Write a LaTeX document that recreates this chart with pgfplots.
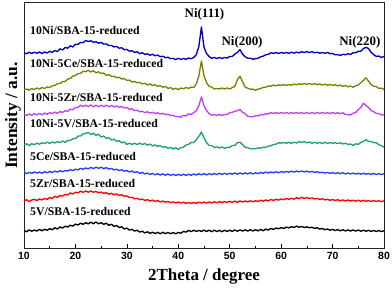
\documentclass[border=0pt]{standalone}
\usepackage{fontspec}
\setmainfont{Liberation Serif}
\setsansfont{Liberation Sans}
\usepackage{pgfplots}
\usepackage{pgfplotstable}
\pgfplotsset{compat=1.18}
\definecolor{cnb}{RGB}{0,0,190}
\definecolor{col}{RGB}{128,128,0}
\definecolor{cpu}{RGB}{192,64,255}
\definecolor{cgr}{RGB}{30,160,120}
\definecolor{cbl}{RGB}{40,60,255}
\definecolor{crd}{RGB}{255,0,0}
\pgfplotstableread{
x bk rd bl gr pu ol nb
10.0 17.5 47 75.8 103 133.8 158 195.5
10.5 16.2 48.2 74.3 104.2 132.4 159.1 194.2
11.0 18.1 46.5 75.6 102.5 134.1 157.8 195.8
11.5 16.8 47.9 74.7 104.3 132.8 159.6 194.4
12.0 17.9 48.8 76.1 103.2 134.3 158.4 195.9
12.5 16.9 47.4 74.9 104.9 133.1 160.0 194.6
13.0 18.6 49.0 76.0 103.8 134.6 158.9 196.0
13.5 17.2 48.1 74.8 105.2 133.2 160.4 194.5
14.0 18.8 49.6 76.3 104.4 134.9 159.5 196.1
14.5 17.7 48.5 75.2 105.8 133.8 161.1 194.9
15.0 19.4 50.6 76.5 104.6 135.4 160.4 196.8
15.5 18.3 49.4 75.5 106.0 134.3 162.2 195.6
16.0 20.2 51.7 76.9 105.1 135.9 162.6 197.6
16.5 19.0 50.6 75.9 106.4 134.8 164.3 196.4
17.0 21.1 52.5 77.3 105.4 136.4 164.5 199.2
17.5 20.0 51.9 76.3 107.0 135.6 166.4 198.0
18.0 21.8 53.7 77.5 105.6 137.2 166.6 200.6
18.5 21.0 53.0 77.0 107.6 136.7 168.9 199.8
19.0 22.8 55.1 78.4 107.5 138.8 169.5 202.2
19.5 21.9 54.0 77.4 109.4 138.2 171.9 201.0
20.0 23.9 55.7 78.8 109.4 140.6 172.4 203.8
20.5 23.0 55.2 78.2 111.9 140.4 174.5 203.6
21.0 24.8 56.8 79.6 112.0 142.8 174.6 205.6
21.5 23.7 55.6 78.8 114.2 141.4 176.7 205.3
22.0 25.4 57.1 80.0 114.6 142.9 176.4 207.6
22.5 24.1 55.8 79.2 115.6 141.5 177.7 206.4
23.0 25.9 57.0 80.6 113.5 143.1 176.0 207.3
23.5 24.3 55.7 79.4 114.8 141.2 177.3 205.8
24.0 26.0 56.6 80.9 112.6 142.8 175.1 206.3
24.5 24.2 55.2 79.6 113.8 141.3 176.2 204.8
25.0 25.4 56.0 80.8 111.0 142.9 174.6 205.6
25.5 23.7 54.6 79.3 112.0 141.4 174.9 203.9
26.0 24.8 55.3 80.4 109.6 142.8 172.6 204.1
26.5 22.6 53.8 78.9 110.2 141.2 173.3 202.4
27.0 23.8 54.7 79.6 108.0 142.6 171.6 202.6
27.5 21.6 53.3 78.1 108.9 141.1 171.8 201.0
28.0 22.5 54.0 78.8 106.6 142.1 170.2 201.6
28.5 20.4 52.6 77.4 107.4 140.6 170.7 199.8
29.0 21.2 53.2 78.2 105.1 141.6 169.0 200.2
29.5 19.0 51.8 76.8 106.0 139.9 169.4 198.3
30.0 19.9 52.1 77.5 103.6 140.6 167.6 198.6
30.5 17.9 50.4 76.0 104.8 138.8 167.9 196.8
31.0 18.7 50.8 77.0 103.5 139.2 166.0 197.3
31.5 16.9 49.2 75.5 104.8 137.4 166.5 195.5
32.0 17.8 49.6 76.2 103.4 137.8 165.2 196.2
32.5 15.9 48.3 74.6 104.9 136.3 165.6 194.3
33.0 16.8 48.9 75.6 103.5 136.7 164.1 195.3
33.5 15.1 47.6 74.0 104.5 135.4 164.7 193.6
34.0 16.2 48.3 74.9 102.8 136.2 163.1 194.2
34.5 14.6 47.0 73.5 103.9 134.9 164.0 192.8
35.0 15.9 47.9 74.6 102.0 135.7 162.5 193.7
35.5 14.4 46.6 73.2 103.1 134.5 163.3 192.2
36.0 15.7 47.4 74.3 101.6 135.2 161.6 192.9
36.5 14.2 46.1 72.9 102.4 133.9 162.4 191.3
37.0 15.8 47.0 74.2 100.7 134.7 160.7 191.8
37.5 14.3 45.8 72.8 101.5 133.3 161.6 190.3
38.0 15.6 46.6 74.0 99.6 133.8 159.6 190.7
38.5 14.2 45.4 72.6 100.6 132.3 160.5 189.4
39.0 15.5 46.1 73.8 99.0 132.7 158.6 189.6
39.5 14.1 45.1 72.4 100.2 131.3 159.7 188.4
40.0 15.6 46.0 73.8 98.6 131.6 158.5 189.7
40.5 14.8 44.9 72.5 100.4 130.8 159.9 188.5
41.0 16.6 45.8 73.7 100.8 132.6 159.2 189.6
41.5 15.9 44.6 72.6 103.0 132.0 160.5 188.6
42.0 17.6 45.6 73.8 103.6 134.1 159.6 190.0
42.5 16.4 44.5 72.7 105.6 133.6 160.9 189.2
43.0 17.8 45.6 74.0 105.4 135.4 160.5 190.5
43.5 16.5 44.7 73.0 108.4 137.3 164.2 193.3
44.0 17.6 45.8 74.2 111.6 142.4 172.0 201.5
44.5 16.6 44.9 73.2 116.0 151.0 187.0 221.0
45.0 17.9 45.9 74.3 110.2 142.2 172.4 200.6
45.5 16.4 45.0 73.1 105.3 137.4 165.3 194.4
46.0 17.8 46.1 74.4 102.6 134.5 161.6 191.5
46.5 16.3 44.9 73.3 102.4 132.6 160.9 189.6
47.0 17.9 46.2 74.6 100.6 133.6 159.1 190.6
47.5 16.4 45.2 73.4 101.1 132.4 159.5 189.4
48.0 17.7 46.4 74.8 100.1 133.7 159.0 190.5
48.5 16.3 45.3 73.6 101.0 132.5 160.0 189.5
49.0 17.8 46.5 74.7 99.7 133.5 159.1 190.5
49.5 16.5 45.5 73.5 100.6 133.4 160.1 190.0
50.0 17.9 46.7 74.9 100.6 135.4 159.1 191.4
50.5 16.6 45.6 73.7 102.4 135.6 160.4 191.6
51.0 18.0 46.9 75.1 102.7 136.9 161.6 193.9
51.5 16.8 45.8 73.8 105.4 137.2 168.3 195.6
52.0 18.1 47.0 75.1 105.8 138.4 171.8 198.4
52.5 16.9 46.0 73.9 103.4 135.6 166.3 193.7
53.0 18.2 47.1 75.2 100.7 134.4 160.8 191.3
53.5 16.9 46.1 74.0 100.3 131.7 159.8 189.8
54.0 18.3 47.2 75.3 99.2 131.3 158.7 189.8
54.5 17.0 46.2 74.1 99.4 131.2 158.9 188.8
55.0 18.4 47.3 75.2 99.2 132.3 157.7 189.3
55.5 17.1 46.5 74.4 100.1 132.1 158.9 189.7
56.0 18.6 47.8 75.6 99.8 133.3 159.3 191.2
56.5 17.3 46.8 74.7 100.8 133.1 160.6 191.8
57.0 18.9 48.0 75.9 100.7 134.2 160.8 193.2
57.5 17.9 47.1 75.0 102.0 134.1 162.0 193.6
58.0 19.6 48.5 76.1 102.2 135.3 161.8 195.2
58.5 18.7 47.6 75.2 103.5 134.6 162.9 194.6
59.0 20.0 48.8 76.2 103.8 135.4 162.2 195.4
59.5 19.2 47.9 75.3 105.3 134.6 163.1 194.6
60.0 20.4 49.1 76.4 104.8 135.4 162.5 195.5
60.5 19.6 48.2 75.6 105.6 134.5 163.4 194.7
61.0 20.9 49.5 76.6 104.7 135.6 162.6 195.6
61.5 20.1 48.6 75.8 105.7 134.4 163.5 194.6
62.0 21.3 49.8 76.8 104.6 135.5 162.8 195.8
62.5 20.6 48.8 75.9 105.8 134.6 163.9 194.8
63.0 21.9 50.3 77.0 105.1 135.6 163.2 195.9
63.5 20.7 49.3 76.1 106.3 134.5 164.2 195.1
64.0 21.6 50.7 77.0 105.6 135.4 163.6 196.3
64.5 20.5 49.6 76.1 106.6 134.3 164.6 195.4
65.0 21.2 50.5 76.9 105.1 135.6 163.6 196.4
65.5 20.2 49.4 75.9 106.1 134.4 164.6 195.5
66.0 20.8 50.1 76.6 104.6 135.5 163.4 196.3
66.5 19.6 49.0 75.6 105.8 134.4 164.4 195.2
67.0 20.2 49.6 76.2 104.7 135.6 163.2 195.8
67.5 18.9 48.6 75.3 105.6 134.5 164.1 194.8
68.0 19.5 49.2 75.8 104.6 135.6 162.9 195.5
68.5 18.3 48.1 74.9 105.7 134.4 163.8 194.6
69.0 19.0 48.7 75.6 104.5 135.5 162.7 195.6
69.5 17.8 47.7 74.7 105.6 134.3 163.6 194.3
70.0 18.6 48.5 75.5 104.5 135.6 162.6 194.5
70.5 17.4 47.5 74.4 105.4 134.4 163.3 193.2
71.0 18.4 48.3 75.3 104.4 135.4 162.1 193.4
71.5 17.2 47.2 74.3 105.2 134.2 162.9 192.6
72.0 18.2 48.1 75.2 104.1 135.2 161.7 193.7
72.5 17.1 47.0 74.1 104.8 133.6 162.4 193.2
73.0 18.1 48.0 75.0 103.5 133.4 161.2 194.3
73.5 17.0 46.9 74.0 104.0 133.0 161.9 193.6
74.0 18.0 47.8 74.9 102.6 134.8 160.8 195.3
74.5 16.9 46.8 73.9 104.2 135.5 162.3 195.2
75.0 17.9 47.8 74.8 103.7 138.4 162.8 196.6
75.5 16.8 46.7 73.8 105.6 140.6 165.4 196.8
76.0 17.8 47.7 74.7 106.6 144.8 167.6 199.4
76.5 16.7 46.6 73.7 108.4 142.6 170.3 200.6
77.0 17.7 47.6 74.6 106.6 140.4 166.6 199.4
77.5 16.6 46.5 73.6 106.4 137.6 163.4 195.6
78.0 17.6 47.5 74.5 105.2 136.4 161.6 193.4
78.5 16.5 46.4 73.5 105.4 134.6 161.4 191.6
79.0 17.5 47.4 74.4 103.2 134.4 159.6 191.9
79.5 16.4 46.3 73.4 102.4 133.1 159.9 190.6
80.0 17.3 47.2 74.2 100.8 133.4 158.6 191.4
}\xrd
\begin{document}
\begin{tikzpicture}
\begin{axis}[
  name=ax,
  scale only axis,
  width=360bp, height=246bp,
  xmin=10, xmax=80, ymin=0, ymax=246,
  xtick={10,20,...,80},
  minor x tick num=1,
  ytick=\empty,
  xtick pos=bottom,
  tick align=inside,
  major tick length=4bp,
  minor tick length=2.5bp,
  axis line style={line width=0.8pt, black!85},
  every tick/.style={black, line width=0.7pt},
  /pgf/number format/assume math mode=true,
  xticklabel style={font=\fontsize{10.5}{12}\selectfont\sffamily\bfseries, yshift=-1bp},
  xlabel={2Theta / degree},
  xlabel style={font=\fontsize{17}{20}\selectfont\bfseries, at={(axis description cs:0.5,0)}, anchor=base, yshift=-32bp},
  ylabel={Intensity / a.u.},
  ylabel style={font=\fontsize{17.5}{20}\selectfont\bfseries, at={(axis description cs:-0.019,0.538)}, anchor=base},
  every axis plot/.append style={line width=1.35pt, line join=round},
  clip=true,
]
\addplot[black, no marks] table[x=x, y=bk] {\xrd};
\addplot[crd, no marks] table[x=x, y=rd] {\xrd};
\addplot[cbl, no marks] table[x=x, y=bl] {\xrd};
\addplot[cgr, no marks] table[x=x, y=gr] {\xrd};
\addplot[cpu, no marks] table[x=x, y=pu] {\xrd};
\addplot[col, no marks] table[x=x, y=ol] {\xrd};
\addplot[cnb, no marks] table[x=x, y=nb] {\xrd};
\begin{scope}[every node/.style={font=\fontsize{11.8}{13}\selectfont\bfseries, anchor=west, inner sep=0pt}]
\node at (axis cs:11.17,218) {10Ni/SBA-15-reduced};
\node at (axis cs:11.17,185) {10Ni-5Ce/SBA-15-reduced};
\node at (axis cs:11.17,151) {10Ni-5Zr/SBA-15-reduced};
\node at (axis cs:11.17,124) {10Ni-5V/SBA-15-reduced};
\node at (axis cs:11.17,92) {5Ce/SBA-15-reduced};
\node at (axis cs:11.17,65) {5Zr/SBA-15-reduced};
\node at (axis cs:11.17,36) {5V/SBA-15-reduced};
\end{scope}
\begin{scope}[every node/.style={font=\fontsize{13}{15}\selectfont\bfseries, anchor=center, inner sep=0pt}]
\node at (axis cs:45.1,234) {Ni(111)};
\node at (axis cs:52.4,205.5) {Ni(200)};
\node at (axis cs:75.3,206) {Ni(220)};
\end{scope}
\end{axis}
\pgfresetboundingbox
\path ([shift={(-24bp,-39bp)}]ax.south west) rectangle ([shift={(8bp,2bp)}]ax.north east);
\end{tikzpicture}
\end{document}
